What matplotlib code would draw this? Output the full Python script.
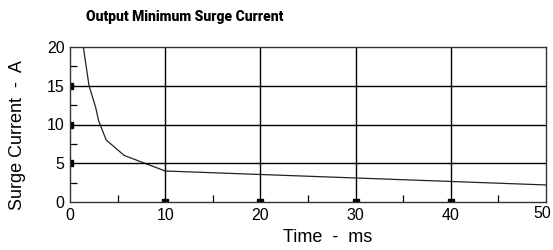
import matplotlib.pyplot as plt

# Surge current curve
time_ms = [1.4, 2.0, 2.7, 3.0, 3.8, 5.7, 10, 50]
current_a = [20, 15, 12.2, 10.5, 8.0, 6.0, 4.0, 2.2]

x_ticks = [0, 10, 20, 30, 40, 50]
y_ticks = [0, 5, 10, 15, 20]
x_major = [10, 20, 30, 40]
x_minor = [5, 15, 25, 35, 45]
y_major = [5, 10, 15]
y_minor = [2.5, 7.5, 12.5, 17.5]

plt.rcParams['font.family'] = ['Liberation Sans', 'DejaVu Sans']

fig = plt.figure(figsize=(5.53, 2.5), dpi=100)
ax = fig.add_axes([70 / 553, 1 - 202 / 250, 476 / 553, 155 / 250])

ax.plot(time_ms, current_a, color='#222222', lw=0.9)

for x in x_major:
    ax.axvline(x, color='black', lw=1.0)
for y in y_major:
    ax.axhline(y, color='black', lw=1.0)

# square markers on the axes at gridline positions (only inner half shows)
ax.plot(x_major, [0] * len(x_major), 's', color='black', ms=5, clip_on=True)
ax.plot([0] * len(y_major), y_major, 's', color='black', ms=5, clip_on=True)

ax.set_xlim(0, 50)
ax.set_ylim(0, 20)
ax.set_xticks(x_ticks)
# last label sits a bit left so it stays inside the picture
ax.set_xticklabels([str(v) for v in x_ticks[:-1]] + [''])
ax.annotate(str(x_ticks[-1]), xy=(x_ticks[-1], 0), xytext=(-2.5, -3),
            textcoords='offset points', ha='center', va='top', fontsize=11.5)
ax.set_yticks(y_ticks)
ax.set_xticks(x_minor, minor=True)
ax.set_yticks(y_minor, minor=True)
ax.tick_params(which='major', direction='in', length=0, labelsize=11.5, pad=4)
ax.tick_params(which='minor', direction='in', length=5, width=0.9, color='black')

for s in ax.spines.values():
    s.set_linewidth(1.0)
    s.set_color('#333333')

ax.set_xlabel('Time  -  ms', fontsize=13, va='center')
ax.xaxis.set_label_coords(0.542, -0.226)
ax.set_ylabel('Surge Current  -  A', fontsize=13, va='center')
ax.yaxis.set_label_coords(-0.111, 0.432)

fig.text(86 / 553, 1 - 17 / 250, 'Output Minimum Surge Current', fontsize=10,
         fontweight='black', family=['Roboto', 'DejaVu Sans'],
         va='center', ha='left')

fig.savefig('out.png', dpi=100)
